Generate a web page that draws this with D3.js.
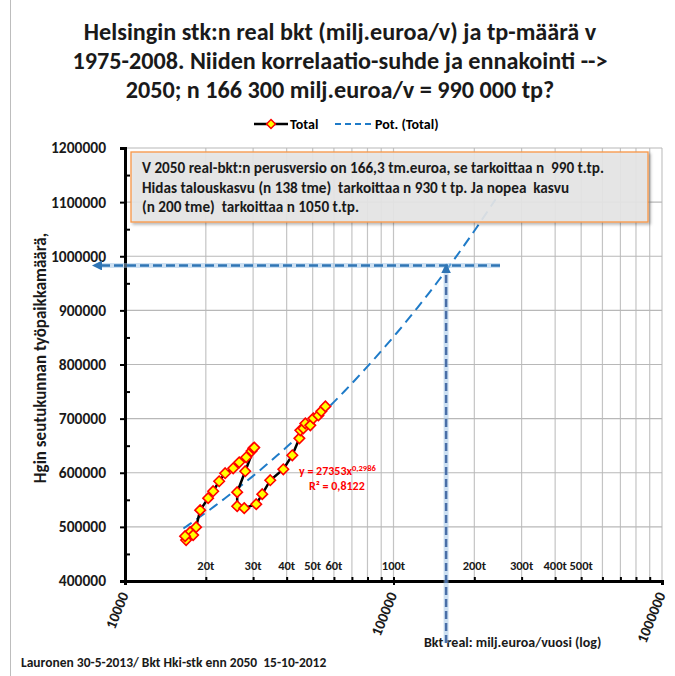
<!DOCTYPE html>
<html><head><meta charset="utf-8">
<script src="https://cdn.jsdelivr.net/npm/d3@7"></script>
<style>body{margin:0;background:#fff}svg{display:block}text{font-family:Carlito,Lato,"Open Sans",sans-serif;font-weight:bold;white-space:pre}</style>
</head><body>
<svg id="c" width="675" height="676"></svg>
<script>
// ---- data ----
const years = d3.range(1975, 2009);
const gdp = [17480,17940,16890,16740,18400,19050,20400,21300,22420,23610,25290,26630,28280,29600,30040,30300,
             28040,26170,26170,27800,30820,32450,34750,38870,41990,44610,44980,46150,46950,49000,50280,52500,53850,55770];
const jobs = [490300,484800,475600,482900,499500,530900,553000,565900,584300,599100,608300,619300,628600,640000,645200,646500,
              602800,564100,538200,534600,541900,560400,586200,606400,632300,663600,678300,682000,691200,687600,700500,706000,713400,722600];
const trendA = 27353, trendB = 0.2986, trendR2 = "0,8122";
const trendRange = [16500, 240000];
const yTicks = [400000,500000,600000,700000,800000,900000,1000000,1100000,1200000];
const xMajor = [10000,100000,1000000];
const xInnerLabels = [[20000,"20t"],[30000,"30t"],[40000,"40t"],[50000,"50t"],[60000,"60t"],[100000,"100t"],[200000,"200t"],[300000,"300t"],[400000,"400t"],[500000,"500t"]];
const forecastX = 157000, forecastY = 983000;
const titleLines = ["Helsingin stk:n real bkt (milj.euroa/v) ja tp-määrä v","1975-2008. Niiden korrelaatio-suhde ja ennakointi -->","2050; n 166 300 milj.euroa/v = 990 000 tp?"];
const noteLines = ["V 2050 real-bkt:n perusversio on 166,3 tm.euroa, se tarkoittaa n  990 t.tp.","Hidas talouskasvu (n 138 tme)  tarkoittaa n 930 t tp. Ja nopea  kasvu","(n 200 tme)  tarkoittaa n 1050 t.tp."];

// ---- chart ----
const svg = d3.select("#c");
const L=125, R=662, T=148, B=581;
const x = d3.scaleLog().domain([10000,1000000]).range([L,R]);
const y = d3.scaleLinear().domain([400000,1200000]).range([B,T]);
const F = "Carlito,Lato,sans-serif";

svg.append("line").attr("x1",10.5).attr("x2",10.5).attr("y1",0).attr("y2",676).attr("stroke","#bdbdbd");

// title
svg.append("g").selectAll("text").data(titleLines).join("text")
  .attr("x",340).attr("y",(d,i)=>40+i*29).attr("text-anchor","middle").attr("font-size",24.2).attr("fill","#1a1a1a").text(d=>d);

// legend
const lg = svg.append("g");
lg.append("line").attr("x1",254).attr("x2",288).attr("y1",124).attr("y2",124).attr("stroke","#000").attr("stroke-width",2.5);
lg.append("path").attr("d",d3.symbol(d3.symbolDiamond2,50)()).attr("transform","translate(271,124)").attr("fill","#ffff00").attr("stroke","#ff0000").attr("stroke-width",1.5);
lg.append("text").attr("x",290).attr("y",129).attr("font-size",14).text("Total");
lg.append("line").attr("x1",335).attr("x2",372).attr("y1",124).attr("y2",124).attr("stroke","#1f7bc8").attr("stroke-width",2).attr("stroke-dasharray","6,4");
lg.append("text").attr("x",375).attr("y",129).attr("font-size",14).text("Pot. (Total)");

// gridlines
const minorX = [];
[10000,100000].forEach(d=>{for(let k=2;k<=10;k++) minorX.push(d*k);});
svg.append("g").selectAll("line").data(minorX).join("line")
  .attr("x1",d=>x(d)).attr("x2",d=>x(d)).attr("y1",T).attr("y2",B).attr("stroke","#c4c4c4").attr("stroke-width",1.2);
svg.append("g").selectAll("line").data(yTicks.slice(1)).join("line")
  .attr("x1",L).attr("x2",R).attr("y1",d=>y(d)).attr("y2",d=>y(d)).attr("stroke","#b8b8b8").attr("stroke-width",1.2);

// axes
const yAxis = svg.append("g").attr("transform",`translate(${L},0)`)
  .call(d3.axisLeft(y).tickValues(yTicks).tickFormat(d3.format("d")).tickSize(5).tickPadding(14));
yAxis.select(".domain").attr("stroke","#000").attr("stroke-width",3);
yAxis.selectAll(".tick line").attr("stroke","#000").attr("stroke-width",2);
yAxis.selectAll(".tick text").attr("font-size",15.5).attr("fill","#1a1a1a").attr("font-family",F);
svg.append("g").attr("transform",`translate(${L},0)`)
  .call(d3.axisRight(y).tickValues(d3.range(450000,1200000,100000)).tickFormat("").tickSize(5))
  .call(g=>g.select(".domain").remove()).selectAll("line").attr("stroke","#000").attr("stroke-width",2);

const xAxis = svg.append("g").attr("transform",`translate(0,${B})`)
  .call(d3.axisBottom(x).tickValues(xMajor).tickFormat(d3.format("d")).tickSize(4).tickPadding(6));
xAxis.select(".domain").attr("stroke","#000").attr("stroke-width",3);
xAxis.selectAll(".tick line").attr("stroke","#000").attr("stroke-width",2);
xAxis.selectAll(".tick text").attr("font-size",15).attr("fill","#1a1a1a").attr("font-family",F)
  .attr("text-anchor","end").attr("dy","0.35em").attr("transform","translate(0,8) rotate(-68)").attr("x",-4).attr("y",0);
svg.append("g").attr("transform",`translate(0,${B})`)
  .call(d3.axisTop(x).tickValues(minorX.filter(d=>d<1000000)).tickFormat("").tickSize(4))
  .call(g=>g.select(".domain").remove()).selectAll("line").attr("stroke","#000").attr("stroke-width",2);

svg.append("g").selectAll("text").data(xInnerLabels).join("text")
  .attr("x",d=>x(d[0])).attr("y",570).attr("text-anchor","middle").attr("font-size",12.5).attr("fill","#1a1a1a").text(d=>d[1]);

// axis titles
svg.append("text").attr("transform","translate(46,358) rotate(-90)").attr("text-anchor","middle").attr("font-size",17).attr("fill","#1a1a1a").text("Hgin seutukunnan työpaikkamäärä,");
svg.append("text").attr("x",424).attr("y",647).attr("font-size",14).attr("fill","#1a1a1a").text("Bkt real: milj.euroa/vuosi (log)");
svg.append("text").attr("x",21).attr("y",667).attr("font-size",13.5).attr("fill","#1a1a1a").text("Lauronen 30-5-2013/ Bkt Hki-stk enn 2050  15-10-2012");

// trend line
const tx = d3.range(0,61).map(i=>trendRange[0]*Math.pow(trendRange[1]/trendRange[0],i/60));
svg.append("path").datum(tx).attr("fill","none").attr("stroke","#1f7bc8").attr("stroke-width",2).attr("stroke-dasharray","10,6")
  .attr("d",d3.line().x(d=>x(d)).y(d=>y(trendA*Math.pow(d,trendB))));

// data series
const pts = years.map((yr,i)=>({yr,g:gdp[i],j:jobs[i]}));
svg.append("path").datum(pts).attr("fill","none").attr("stroke","#000").attr("stroke-width",2.5)
  .attr("d",d3.line().x(d=>x(d.g)).y(d=>y(d.j)));
svg.append("g").selectAll("path").data(pts).join("path")
  .attr("d",d3.symbol(d3.symbolDiamond2,70)()).attr("transform",d=>`translate(${x(d.g)},${y(d.j)})`)
  .attr("fill","#ffff00").attr("stroke","#ff0000").attr("stroke-width",1.6);

// equation
const eq = svg.append("text").attr("x",299).attr("y",475).attr("font-size",12).attr("fill","#ff0000");
eq.append("tspan").text("y = "+trendA+"x");
eq.append("tspan").attr("dy",-4).attr("font-size",8.5).text(String(trendB).replace(".",","));
svg.append("text").attr("x",309).attr("y",490).attr("font-size",12).attr("fill","#ff0000").text("R² = "+trendR2);

// forecast arrows
const defs = svg.append("defs");
defs.append("marker").attr("id","ah").attr("viewBox","0 0 10 10").attr("refX",2).attr("refY",5).attr("markerWidth",4).attr("markerHeight",4).attr("orient","auto-start-reverse")
  .append("path").attr("d","M0,0L10,5L0,10z").attr("fill","#2f75b5");
const fy = y(forecastY), fx = x(forecastX);
svg.append("line").attr("x1",500).attr("x2",97).attr("y1",fy).attr("y2",fy).attr("stroke","#9cc3e6").attr("stroke-width",5).attr("opacity",0.5);
svg.append("line").attr("x1",500).attr("x2",100).attr("y1",fy).attr("y2",fy).attr("stroke","#2f75b5").attr("stroke-width",2.5).attr("stroke-dasharray","9,4").attr("marker-end","url(#ah)");
svg.append("line").attr("x1",fx).attr("x2",fx).attr("y1",643).attr("y2",fy+2).attr("stroke","#9cc3e6").attr("stroke-width",5).attr("opacity",0.5);
svg.append("line").attr("x1",fx).attr("x2",fx).attr("y1",643).attr("y2",fy+6).attr("stroke","#4a6fa8").attr("stroke-width",2.5).attr("stroke-dasharray","8,4").attr("marker-end","url(#ah)");

// note box
defs.append("filter").attr("id","sh").append("feDropShadow").attr("dx",2).attr("dy",2).attr("stdDeviation",1.5).attr("flood-color","#000").attr("flood-opacity",0.3);
svg.append("rect").attr("x",131).attr("y",152).attr("width",517).attr("height",70).attr("fill","#e7e7e7").attr("fill-opacity",0.9)
  .attr("stroke","#f79646").attr("stroke-width",1.3).attr("filter","url(#sh)");
svg.append("g").selectAll("text").data(noteLines).join("text")
  .attr("x",142).attr("y",(d,i)=>173+i*19.5).attr("font-size",15.2).attr("fill","#1a1a1a").text(d=>d);
</script>
</body></html>
